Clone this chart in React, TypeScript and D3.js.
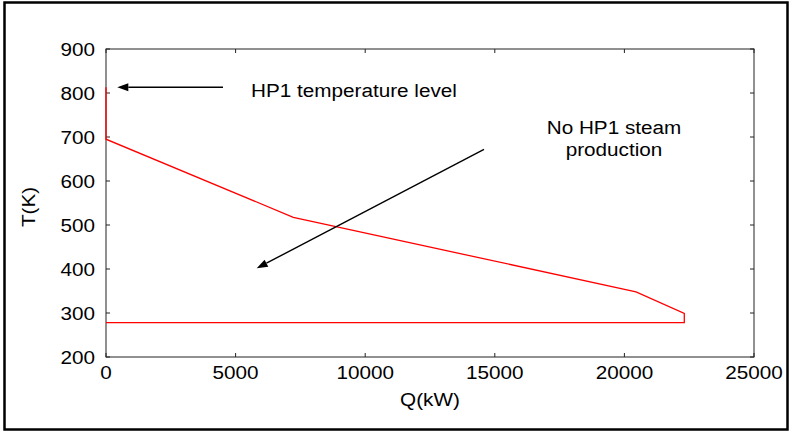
import React from "react";
import * as d3 from "d3";

const W = 790;
const H = 432;

// Red composite curve (Q in kW, T in K)
const curveQ = [0, 0, 7226, 20448, 22311, 22311, 0];
const curveT = [813, 695, 517.5, 348, 299, 278, 278];

const xTicks = [0, 5000, 10000, 15000, 20000, 25000];
const yTicks = [200, 300, 400, 500, 600, 700, 800, 900];

// Annotations: arrows [fromQ, fromT, toQ, toT]
const arrowFromQ = [4514, 14583];
const arrowFromT = [813, 672];
const arrowToQ = [436, 5814];
const arrowToT = [813, 401.6];

const labelText1 = ["HP1 temperature level"];
const labelText2 = ["No HP1 steam", "production"];

const FONT = "'Liberation Sans', Arial, sans-serif";
const FS = 19;
const SX = 1.09;

export default function App() {
  const x = d3.scaleLinear().domain([0, 25000]).range([106, 754]);
  const y = d3.scaleLinear().domain([200, 900]).range([357, 49]);
  const x0 = x.range()[0], x1 = x.range()[1];
  const y0 = y.range()[0], y1 = y.range()[1];

  const pts: [number, number][] = curveQ.map((q, i) => [q, curveT[i]]);
  const line = d3
    .line<[number, number]>()
    .x((d) => x(d[0]))
    .y((d) => y(d[1]));

  const T = (px: number, py: number, s: string, anchor: string, key: string, rot = 0) => (
    <text
      key={key}
      transform={`translate(${px},${py}) rotate(${rot}) scale(${SX},1)`}
      textAnchor={anchor}
      fontFamily={FONT}
      fontSize={FS}
      fill="#000"
    >
      {s}
    </text>
  );

  const arrows = arrowFromQ.map((_, i) => {
    const sx = x(arrowFromQ[i]), sy = y(arrowFromT[i]);
    const ex = x(arrowToQ[i]), ey = y(arrowToT[i]);
    const ang = Math.atan2(ey - sy, ex - sx);
    const hl = 11, hw = 4;
    const bx = ex - hl * Math.cos(ang), by = ey - hl * Math.sin(ang);
    const px = -Math.sin(ang) * hw, py = Math.cos(ang) * hw;
    return (
      <g key={"a" + i}>
        <line x1={sx} y1={sy} x2={bx} y2={by} stroke="#000" strokeWidth={1.4} />
        <polygon
          points={`${ex},${ey} ${bx + px},${by + py} ${bx - px},${by - py}`}
          fill="#000"
        />
      </g>
    );
  });

  return (
    <svg
      width={W}
      height={H}
      style={{ position: "absolute", left: 0, top: 0, background: "#fff" }}
    >
      <rect x={0} y={0} width={W} height={H} fill="#fff" />
      <rect x={4.5} y={2.5} width={783} height={427} fill="none" stroke="#000" strokeWidth={2.5} />

      {/* axis box */}
      <rect x={x0} y={y1} width={x1 - x0} height={y0 - y1} fill="none" stroke="#222" strokeWidth={1} />

      {xTicks.map((t) => (
        <g key={"xt" + t}>
          <line x1={x(t)} x2={x(t)} y1={y0} y2={y0 - 4} stroke="#222" />
          <line x1={x(t)} x2={x(t)} y1={y1} y2={y1 + 4} stroke="#222" />
          {T(x(t), 379, String(t), "middle", "xl" + t)}
        </g>
      ))}
      {yTicks.map((t) => (
        <g key={"yt" + t}>
          <line x1={x0} x2={x0 + 4} y1={y(t)} y2={y(t)} stroke="#222" />
          <line x1={x1} x2={x1 - 4} y1={y(t)} y2={y(t)} stroke="#222" />
          {T(95, y(t) + 7, String(t), "end", "yl" + t)}
        </g>
      ))}

      <path d={line(pts) || ""} fill="none" stroke="#ff0000" strokeWidth={1.3} />

      {arrows}

      {T(251, 97, labelText1[0], "start", "l1")}
      {labelText2.map((s, i) => T(614, 134 + i * 22, s, "middle", "l2" + i))}

      {T(430, 406, "Q(kW)", "middle", "xlab")}
      {T(35, 207, "T(K)", "middle", "ylab", -90)}
    </svg>
  );
}
